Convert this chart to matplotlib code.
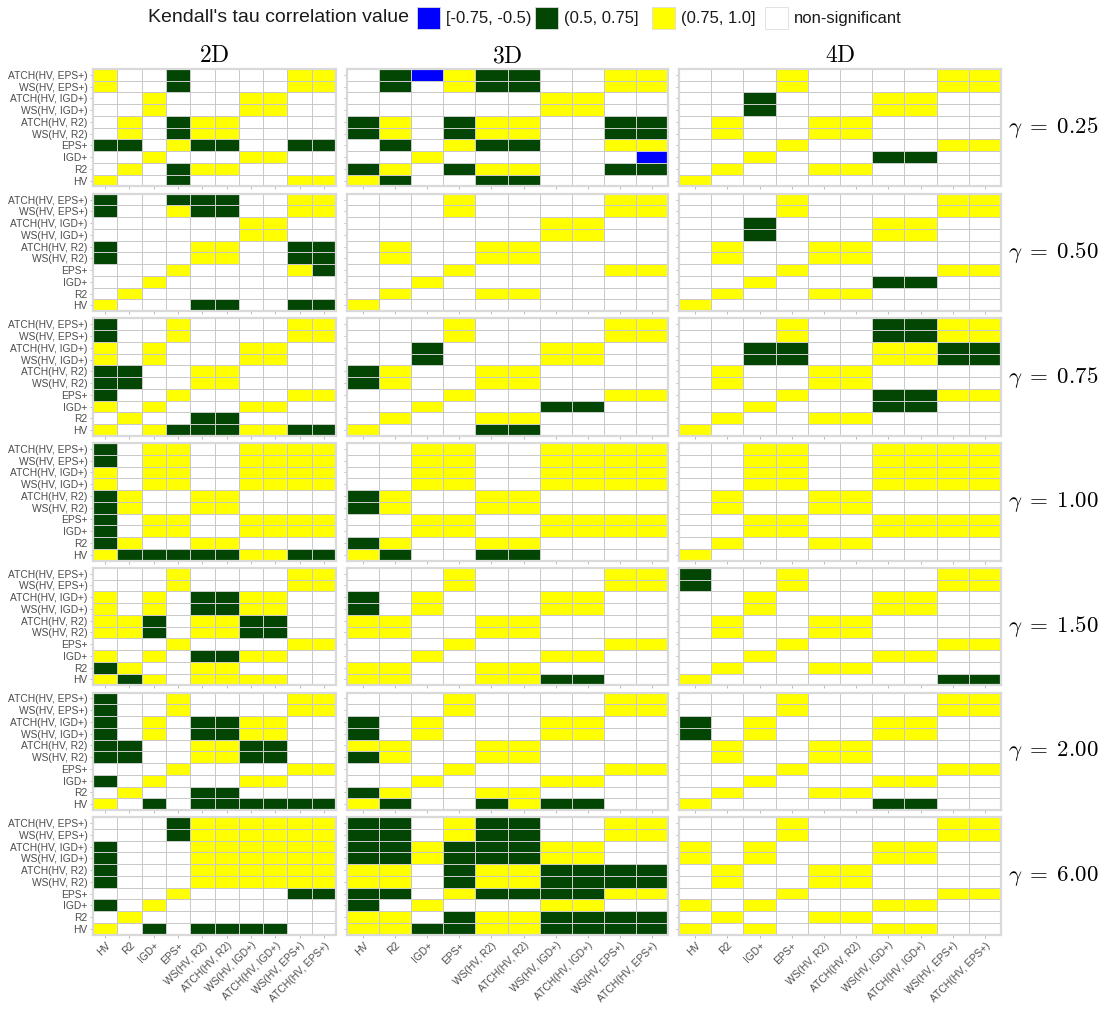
import matplotlib
matplotlib.use("Agg")
import matplotlib.pyplot as plt
import numpy as np
from matplotlib.colors import ListedColormap, BoundaryNorm
from matplotlib.patches import Rectangle

plt.rcParams['mathtext.fontset'] = 'cm'
plt.rcParams['font.family'] = ['Liberation Sans', 'DejaVu Sans']

# ---------------- data ----------------
metrics = ["HV", "R2", "IGD+", "EPS+", "WS(HV, R2)", "ATCH(HV, R2)",
           "WS(HV, IGD+)", "ATCH(HV, IGD+)", "WS(HV, EPS+)", "ATCH(HV, EPS+)"]
dims = ["2D", "3D", "4D"]
gammas = ["0.25", "0.50", "0.75", "1.00", "1.50", "2.00", "6.00"]
legend_title = "Kendall's tau correlation value"
legend_labels = ["[-0.75, -0.5)", "(0.5, 0.75]", "(0.75, 1.0]", "non-significant"]
# codes: '.' non-significant, 'b' [-0.75,-0.5), 'g' (0.5,0.75], 'y' (0.75,1.0]
# rows listed top -> bottom: ATCH(HV,EPS+), WS(HV,EPS+), ..., R2, HV

m2d = {
    "0.25": ["y..g....yy", "y..g....yy", "..y...yy..", "..y...yy..", ".y.gyy....",
             ".y.gyy....", "gg.ygg..gg", "..y...yy..", ".y.gyy....", "y..g....yy"],
    "0.50": ["g..ggg..yy", "g..ygg..yy", "......yy..", "......yy..", "g...yy..gg",
             "g...yy..gg", "...y....yg", "..y.......", ".y........", "y...gg..gg"],
    "0.75": ["g..y....yy", "g..y....yy", "y.y...yy..", "y.y...yy..", "gg..yy....",
             "gg..yy....", "g..y....yy", "y.y...yy..", ".y..gg....", "y.ygggyygg"],
    "1.00": ["g.yy..yyyy", "g.yy..yyyy", "y.yy..yyyy", "y.yy..yyyy", "gy..yy....",
             "gy..yy....", "g.yy..yyyy", "g.yy..yyyy", "gy..yy....", "ygggggyygg"],
    "1.50": ["...y....yy", "...y....yy", "y.y.ggyy..", "y.y.ggyy..", "yyg.yygg..",
             "yyg.yygg..", "...y....yy", "y.y.ggyy..", "gy..yy....", "ygy.yyyy.."],
    "2.00": ["g..y....yy", "g..y....yy", "g.y.ggyy..", "g.y.ggyy..", "gg..yygg..",
             "gg..yygg..", "...y....yy", "g.y...yy..", ".y..gg....", "y.g.gggggg"],
    "6.00": ["...gyyyyyy", "...gyyyyyy", "g...yyyyyy", "g...yyyyyy", "g...yyyyyy",
             "g...yyyyyy", "...y....gg", "g.y.......", ".y........", "y.g.gggg.."],
}
m3d = {
    "0.25": [".gbygg..yy", ".g.ygg..yy", "......yy..", "......yy..", "gy.gyy..gg",
             "gy.gyy..gg", ".g.ygg..yy", "..y......b", "gy.gyy..gg", "yg..gg...."],
    "0.50": ["...y....yy", "...y....yy", "......yy..", "......yy..", ".y..yy....",
             ".y..yy....", "...y....yy", "..y.......", ".y..yy....", "y........."],
    "0.75": ["...y....yy", "...y....yy", "..g...yy..", "..g...yy..", "gy..yy....",
             "gy..yy....", "...y....yy", "..y...gg..", ".y..yy....", "y...gg...."],
    "1.00": ["..yy..yyyy", "..yy..yyyy", "..yy..yyyy", "..yy..yyyy", "gy..yy....",
             "gy..yy....", "..yy..yyyy", "..yy..yyyy", "gy..yy....", "yg..gg...."],
    "1.50": ["...y....yy", "...y....yy", "g.y...yy..", "g.y...yy..", "yy..yy....",
             "yy..yy....", "...y....yy", "..y...yy..", "yy..yy....", "yy..yygg.."],
    "2.00": ["...y....yy", "...y....yy", "g.y...yy..", "g.y...yy..", "yy..yy....",
             "gy..yy....", "...y....yy", "..y...yy..", "gy..yy....", "yg..gygg.."],
    "6.00": ["gg.ygg..yy", "gg.ygg..yy", "ggygggyy..", "ggygggyy..", "yy.gyygggg",
             "yy.gyygggg", "gg.yggggyy", "g.y...yy..", "yy.gyygggg", "yyggyygggg"],
}
m4d = {
    "0.25": ["...y....yy", "...y....yy", "..g...yy..", "..g...yy..", ".y..yy....",
             ".y..yy....", "...y....yy", "..y...gg..", ".y..yy....", "y........."],
    "0.50": ["...y....yy", "...y....yy", "..g...yy..", "..g...yy..", ".y..yy....",
             ".y..yy....", "...y....yy", "..y...gg..", ".y..yy....", "y........."],
    "0.75": ["...y..ggyy", "...y..ggyy", "..gg..yygg", "..gg..yygg", ".y..yy....",
             ".y..yy....", "...y..ggyy", "..y...gg..", ".y..yy....", "y........."],
    "1.00": ["..yy..yyyy", "..yy..yyyy", "..yy..yyyy", "..yy..yyyy", ".y..yy....",
             ".y..yy....", "..yy..yyyy", "..yy..yyyy", ".y..yy....", "y........."],
    "1.50": ["g..y....yy", "g..y....yy", "..y...yy..", "..y...yy..", ".y..yy....",
             ".y..yy....", "...y....yy", "..y...yy..", ".y..yy....", "y.......gg"],
    "2.00": ["...y....yy", "...y....yy", "g.y...yy..", "g.y...yy..", ".y..yy....",
             ".y..yy....", "...y....yy", "..y...yy..", ".y..yy....", "y.....gg.."],
    "6.00": ["...y....yy", "...y....yy", "y.y...yy..", "y.y...yy..", ".y..yy....",
             ".y..yy....", "...y....yy", "y.y...yy..", ".y..yy....", "y.y...yy.."],
}
data = {"2D": m2d, "3D": m3d, "4D": m4d}

# ---------------- style ----------------
code_map = {".": 0, "b": 1, "g": 2, "y": 3}
colors = ["#FFFFFF", "#0000FF", "#034503", "#FFFF00"]
cmap = ListedColormap(colors)
norm = BoundaryNorm([-0.5, 0.5, 1.5, 2.5, 3.5], cmap.N)

W, H = 1112, 1010
fig = plt.figure(figsize=(W / 100, H / 100), dpi=100)

def fx(px):
    return px / W

def fy(py):
    return 1 - py / H

col_x = [(93, 336), (347, 668), (679, 1001)]
row_top0, row_step, row_h = 69, 124.7, 117.5
tick_col = "#4d4d4d"

for ci, d in enumerate(dims):
    x0, x1 = col_x[ci]
    for ri, g in enumerate(gammas):
        top = row_top0 + ri * row_step
        ax = fig.add_axes([fx(x0), fy(top + row_h), (x1 - x0) / W, row_h / H])
        rows = data[d][g]
        arr = np.array([[code_map[c] for c in r] for r in rows[::-1]])
        ax.pcolormesh(np.arange(11), np.arange(11), arr, cmap=cmap, norm=norm,
                      edgecolors="#c9c9c9", linewidth=0.6)
        ax.set_xlim(0, 10)
        ax.set_ylim(0, 10)
        ax.set_xticks(np.arange(10) + 0.5)
        ax.set_yticks(np.arange(10) + 0.5)
        ax.tick_params(length=2.5, width=0.6, color="#b0b0b0", pad=1.5,
                       labelsize=7.4, labelcolor=tick_col)
        if ci == 0:
            ax.set_yticklabels(metrics)
        else:
            ax.set_yticklabels([])
        if ri == len(gammas) - 1:
            ax.set_xticklabels(metrics, rotation=45, ha="right",
                               rotation_mode="anchor")
        else:
            ax.set_xticklabels([])
        for sp in ax.spines.values():
            sp.set_color("#d9d9d9")
            sp.set_linewidth(1.6)
        if ri == 0:
            ax.set_title(r"$\mathrm{%s}$" % d, fontsize=17, pad=5)
        if ci == 2:
            fig.text(fx(1053), fy(top + row_h / 2), r"$\gamma\;=\;%s$" % g,
                     fontsize=16.5, ha="center", va="center")

# ---------------- legend ----------------
leg_y = 18
fig.text(fx(148), fy(leg_y), legend_title, fontsize=14, ha="left", va="center",
         color="#1a1a1a")
patch_x = [417, 535, 652, 765]
for px, c, lab in zip(patch_x, colors[1:] + [colors[0]], legend_labels):
    fig.add_artist(Rectangle((fx(px), fy(leg_y + 11)), 23 / W, 22 / H,
                             transform=fig.transFigure, facecolor=c,
                             edgecolor="#dddddd", linewidth=0.6))
    fig.text(fx(px + 29), fy(leg_y), lab, fontsize=12, ha="left", va="center",
             color="#1a1a1a")

fig.savefig("out.png", dpi=100)
